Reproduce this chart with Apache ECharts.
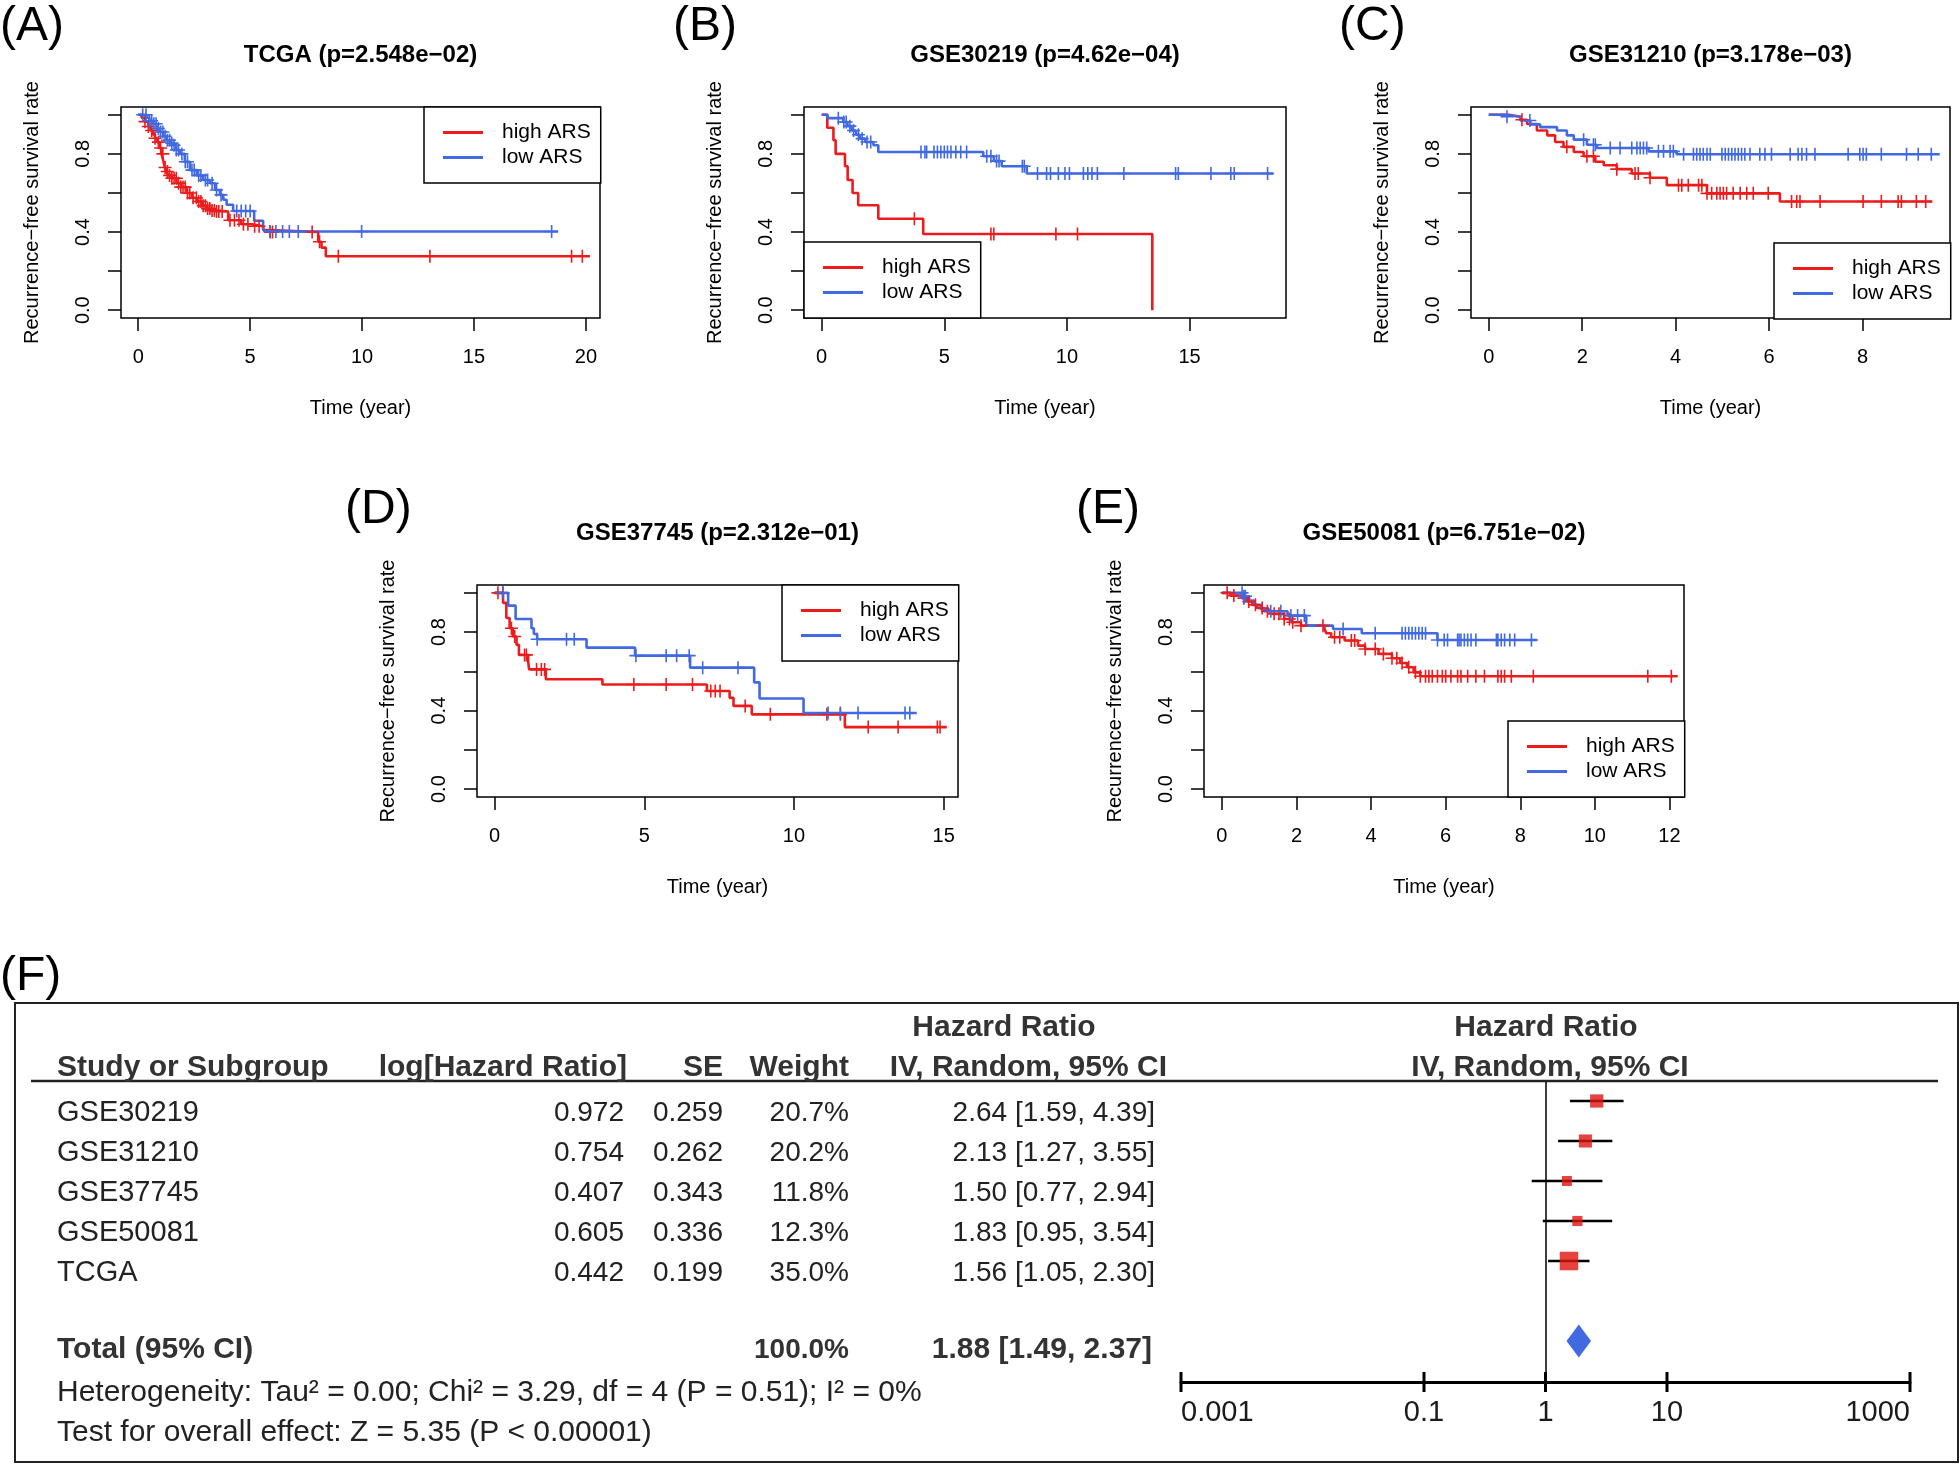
<!DOCTYPE html>
<html><head><meta charset="utf-8">
<script src="https://cdn.jsdelivr.net/npm/echarts@6/dist/echarts.min.js"></script>
<style>html,body{margin:0;padding:0;background:#fff}#c{width:1960px;height:1466px}</style>
</head><body><div id="c"></div>
<script>
// ---------------- DATA ----------------
const seriesNames = ['high ARS', 'low ARS'];
const panelLetters = ['(A)', '(B)', '(C)', '(D)', '(E)'];
const panelNames = ['TCGA', 'GSE30219', 'GSE31210', 'GSE37745', 'GSE50081'];
const panelPValues = ['2.548e\u221202', '4.62e\u221204', '3.178e\u221203', '2.312e\u221201', '6.751e\u221202'];
const xTickValues = [[0, 5, 10, 15, 20], [0, 5, 10, 15], [0, 2, 4, 6, 8], [0, 5, 10, 15], [0, 2, 4, 6, 8, 10, 12]];
const yTickValues = [0, 0.2, 0.4, 0.6, 0.8, 1.0];
const yLabelValues = [0, 0.4, 0.8];

// Panel A: TCGA  [time, survival after step]
const tcgaHighSteps = [[0,1],[0.15,0.985],[0.3,0.965],[0.45,0.94],[0.55,0.92],[0.65,0.9],[0.75,0.88],[0.85,0.86],[0.95,0.83],[1.04,0.8],[1.12,0.765],[1.19,0.73],[1.27,0.71],[1.34,0.69],[1.5,0.675],[1.71,0.65],[1.9,0.63],[2.16,0.6],[2.4,0.575],[2.61,0.556],[2.85,0.535],[3.05,0.52],[3.3,0.51],[3.5,0.505],[4.02,0.46],[4.6,0.44],[5.06,0.43],[5.58,0.41],[5.9,0.4],[8.04,0.35],[8.19,0.32],[8.38,0.276],[20.18,0.276]];
const tcgaHighCensor = [0.3,0.45,0.6,0.75,0.9,1.0,1.1,1.2,1.3,1.4,1.5,1.6,1.7,1.8,1.9,2.0,2.1,2.2,2.3,2.45,2.6,2.7,2.8,2.9,3.0,3.1,3.2,3.3,3.4,3.5,3.6,3.75,4.1,4.3,4.5,4.7,4.9,5.2,5.4,5.9,6.0,7.77,8.1,8.94,13.03,19.36,19.84];
const tcgaLowSteps = [[0,1],[0.37,0.985],[0.5,0.97],[0.67,0.954],[0.82,0.93],[0.97,0.912],[1.12,0.89],[1.27,0.87],[1.42,0.855],[1.56,0.844],[1.7,0.82],[1.86,0.8],[2.08,0.76],[2.31,0.717],[2.61,0.69],[2.9,0.666],[3.2,0.65],[3.43,0.615],[3.65,0.59],[3.8,0.565],[3.95,0.54],[4.24,0.508],[5.18,0.458],[5.58,0.42],[5.66,0.403],[18.76,0.403]];
const tcgaLowCensor = [0.2,0.35,0.5,0.6,0.7,0.8,0.9,1.0,1.1,1.2,1.3,1.4,1.5,1.6,1.7,1.8,1.95,2.1,2.2,2.4,2.5,2.7,2.8,3.0,3.1,3.3,3.5,3.7,4.4,4.6,4.8,5.0,5.88,6.15,6.45,6.75,7.15,9.98,18.47];

// Panel B: GSE30219
const g30219HighSteps = [[0,1],[0.23,0.934],[0.48,0.87],[0.57,0.8],[0.95,0.737],[1.06,0.666],[1.26,0.6],[1.49,0.537],[2.31,0.468],[4.14,0.39],[13.48,0.0]];
const g30219HighCensor = [3.78,6.9,7.02,9.55,10.43];
const g30219LowSteps = [[0,1],[0.24,0.983],[0.88,0.963],[1.05,0.942],[1.22,0.92],[1.4,0.898],[1.56,0.878],[1.77,0.861],[2.11,0.844],[2.31,0.81],[6.59,0.788],[7.02,0.763],[7.34,0.737],[8.36,0.7],[18.41,0.7]];
const g30219LowCensor = [0.68,0.9,1.0,1.15,1.3,1.5,1.65,1.85,2.0,4.05,4.21,4.28,4.58,4.72,4.86,5.0,5.13,5.27,5.47,5.67,5.91,6.73,6.9,7.13,7.23,8.18,8.26,8.8,9.17,9.33,9.65,9.92,10.1,10.67,10.85,11.02,11.24,12.32,14.43,14.54,15.87,16.68,16.82,18.18];

// Panel C: GSE31210
const g31210HighSteps = [[0,1],[0.43,0.99],[0.68,0.975],[0.82,0.953],[1.03,0.92],[1.25,0.895],[1.42,0.861],[1.6,0.836],[1.82,0.81],[2.03,0.788],[2.28,0.76],[2.46,0.742],[2.74,0.722],[3.06,0.7],[3.45,0.678],[3.81,0.64],[4.67,0.598],[6.23,0.556],[9.49,0.556]];
const g31210HighCensor = [0.71,1.67,2.1,2.24,2.74,3.13,3.2,3.45,4.06,4.13,4.27,4.49,4.56,4.67,4.77,4.88,4.95,5.02,5.09,5.23,5.38,5.52,5.66,5.98,6.48,6.59,6.66,7.09,8.01,8.4,8.76,8.83,9.15,9.35];
const g31210LowSteps = [[0,1],[0.32,0.99],[0.68,0.971],[0.89,0.951],[1.1,0.937],[1.46,0.92],[1.67,0.895],[1.82,0.873],[2.1,0.847],[2.31,0.83],[3.42,0.813],[4.02,0.798],[9.65,0.798]];
const g31210LowCensor = [0.39,0.88,2.03,2.24,2.28,2.6,2.81,3.06,3.17,3.24,3.31,3.38,3.63,3.74,3.88,3.95,4.17,4.38,4.45,4.52,4.59,4.67,4.74,4.99,5.06,5.13,5.2,5.27,5.34,5.41,5.48,5.59,5.8,5.91,6.05,6.45,6.62,6.7,6.8,6.98,7.69,7.94,8.01,8.08,8.4,8.94,9.19,9.47];

// Panel D: GSE37745
const g37745HighSteps = [[0,1],[0.28,0.949],[0.39,0.872],[0.5,0.82],[0.61,0.778],[0.73,0.735],[0.81,0.684],[1.12,0.65],[1.15,0.61],[1.71,0.56],[3.6,0.533],[7.09,0.5],[7.85,0.465],[7.98,0.424],[8.59,0.381],[11.7,0.316],[15.1,0.316]];
const g37745HighCensor = [0.11,0.27,0.56,0.67,1.0,1.06,1.4,1.56,1.67,4.65,5.73,6.61,7.22,7.37,7.53,8.37,9.21,11.1,11.55,12.48,13.48,14.79,14.88];
const g37745LowSteps = [[0,1],[0.45,0.935],[0.7,0.867],[1.23,0.82],[1.31,0.79],[1.42,0.764],[3.07,0.721],[4.69,0.68],[6.53,0.619],[8.67,0.544],[8.85,0.462],[10.32,0.388],[14.1,0.388]];
const g37745LowCensor = [0.28,1.42,2.4,2.66,4.72,5.73,6.08,6.5,6.95,8.13,11.14,11.55,12.14,13.71,13.87];

// Panel E: GSE50081
const g50081HighSteps = [[0,1],[0.23,0.986],[0.54,0.973],[0.68,0.956],[0.81,0.939],[0.95,0.923],[1.13,0.906],[1.31,0.893],[1.67,0.867],[1.85,0.85],[2.12,0.833],[2.75,0.816],[2.8,0.794],[2.93,0.774],[3.29,0.757],[3.65,0.731],[3.84,0.714],[4.2,0.689],[4.56,0.667],[4.78,0.643],[4.96,0.621],[5.14,0.595],[5.32,0.575],[12.21,0.575]];
const g50081HighCensor = [0.14,0.32,0.59,0.72,0.9,1.08,1.22,1.4,1.53,1.67,1.81,1.9,2.12,2.71,3.02,3.16,3.47,3.56,3.84,4.11,4.33,4.56,4.69,4.83,5.01,5.19,5.32,5.46,5.55,5.64,5.78,5.91,6.0,6.14,6.32,6.41,6.59,6.81,7.04,7.4,7.49,7.58,7.76,8.35,11.42,12.05];
const g50081LowSteps = [[0,1],[0.59,0.983],[0.72,0.961],[0.86,0.939],[1.04,0.918],[1.26,0.906],[1.76,0.884],[2.26,0.833],[2.98,0.816],[3.75,0.794],[5.78,0.76],[8.44,0.76]];
const g50081LowCensor = [0.54,0.59,0.63,1.31,1.58,1.85,2.03,2.21,3.25,4.11,4.83,4.92,5.01,5.1,5.19,5.28,5.37,5.46,5.78,5.96,6.05,6.32,6.36,6.41,6.5,6.59,6.68,6.81,7.36,7.4,7.49,7.58,7.72,7.85,8.3];

// Panel F: meta-analysis
const studies = ['GSE30219', 'GSE31210', 'GSE37745', 'GSE50081', 'TCGA'];
const logHR = [0.972, 0.754, 0.407, 0.605, 0.442];
const seLogHR = [0.259, 0.262, 0.343, 0.336, 0.199];
const weights = [20.7, 20.2, 11.8, 12.3, 35.0];
const hr = [2.64, 2.13, 1.50, 1.83, 1.56];
const hrLow = [1.59, 1.27, 0.77, 0.95, 1.05];
const hrHigh = [4.39, 3.55, 2.94, 3.54, 2.30];
const totalWeight = 100.0;
const totalHR = 1.88, totalLow = 1.49, totalHigh = 2.37;
const forestTickValues = [0.001, 0.1, 1, 10, 1000];
const heterogeneityText = 'Heterogeneity: Tau\u00b2 = 0.00; Chi\u00b2 = 3.29, df = 4 (P = 0.51); I\u00b2 = 0%';
const overallText = 'Test for overall effect: Z = 5.35 (P < 0.00001)';

// ---------------- LAYOUT / STYLE ----------------
const RED = '#ec1c1c', BLUE = '#4169e1';
const FONT = '"Liberation Sans", Arial, Helvetica, sans-serif';
const PLUS = 'path://M0,-1L0,1M-1,0L1,0';
const panels = [
  { high: tcgaHighSteps, highC: tcgaHighCensor, low: tcgaLowSteps, lowC: tcgaLowCensor },
  { high: g30219HighSteps, highC: g30219HighCensor, low: g30219LowSteps, lowC: g30219LowCensor },
  { high: g31210HighSteps, highC: g31210HighCensor, low: g31210LowSteps, lowC: g31210LowCensor },
  { high: g37745HighSteps, highC: g37745HighCensor, low: g37745LowSteps, lowC: g37745LowCensor },
  { high: g50081HighSteps, highC: g50081HighCensor, low: g50081LowSteps, lowC: g50081LowCensor }
];
const kmLayout = [
  { left: 121, top: 107, width: 479, height: 211, xMin: -0.77, xMax: 20.63, legend: [424, 107], letter: [0, 27] },
  { left: 804, top: 107, width: 482, height: 211, xMin: -0.72, xMax: 18.93, legend: [804, 242], letter: [673, 27] },
  { left: 1471, top: 107, width: 479, height: 211, xMin: -0.38, xMax: 9.87, legend: [1774, 243], letter: [1339, 27] },
  { left: 477, top: 585, width: 481, height: 212, xMin: -0.59, xMax: 15.48, legend: [782, 585], letter: [345, 510] },
  { left: 1204, top: 585, width: 480, height: 212, xMin: -0.48, xMax: 12.39, legend: [1508, 721], letter: [1076, 510] }
];
const forestGrid = { left: 1181, top: 1082, width: 729, height: 300, yMin: -0.475, yMax: 7.025 };
const totalRowIndex = 6;

function stepAt(steps, t) {
  let s = steps[0][1];
  for (const p of steps) { if (p[0] <= t) s = p[1]; else break; }
  return s;
}

const grids = [], xAxes = [], yAxes = [], series = [], legends = [], graphics = [];

kmLayout.forEach((L, k) => {
  const P = panels[k];
  grids.push({ left: L.left, top: L.top, width: L.width, height: L.height, show: true,
    borderColor: '#000', borderWidth: 1.5, backgroundColor: 'transparent', containLabel: false, outerBoundsMode: 'none' });
  xAxes.push({ type: 'value', gridIndex: k, min: L.xMin, max: L.xMax, position: 'bottom',
    axisLine: { show: false, onZero: false }, splitLine: { show: false },
    axisTick: { show: true, customValues: xTickValues[k], length: 13, lineStyle: { color: '#000', width: 1.5 } },
    axisLabel: { show: true, customValues: xTickValues[k], fontSize: 20, color: '#000', fontFamily: FONT, margin: 29 },
    name: 'Time (year)', nameLocation: 'middle', nameGap: 80,
    nameTextStyle: { fontSize: 20, color: '#000', fontFamily: FONT } });
  yAxes.push({ type: 'value', gridIndex: k, min: -0.04, max: 1.04, position: 'left',
    axisLine: { show: false, onZero: false }, splitLine: { show: false },
    axisTick: { show: true, customValues: yTickValues, length: 13, lineStyle: { color: '#000', width: 1.5 } },
    axisLabel: { show: true, customValues: yLabelValues, formatter: v => Number(v).toFixed(1), rotate: 90,
      fontSize: 20, color: '#000', fontFamily: FONT, margin: 28 },
    name: 'Recurrence\u2212free survival rate', nameLocation: 'middle', nameGap: 79,
    nameTextStyle: { fontSize: 20, color: '#000', fontFamily: FONT } });
  [[P.high, P.highC, RED, seriesNames[0]], [P.low, P.lowC, BLUE, seriesNames[1]]].forEach(([steps, cens, col, nm]) => {
    series.push({ type: 'line', name: nm, xAxisIndex: k, yAxisIndex: k, data: steps, step: 'end',
      symbol: 'none', silent: true, lineStyle: { color: col, width: 2.6 }, itemStyle: { color: col }, z: 3 });
    series.push({ type: 'scatter', name: nm, xAxisIndex: k, yAxisIndex: k,
      data: cens.map(t => [t, stepAt(steps, t)]), symbol: PLUS, symbolSize: 13, silent: true,
      itemStyle: { color: 'transparent', borderColor: col, borderWidth: 1.6, opacity: 1 }, z: 4 });
  });
  legends.push({ show: true, data: seriesNames, orient: 'vertical', left: L.legend[0], top: L.legend[1],
    icon: 'rect', itemWidth: 40, itemHeight: 3, itemGap: 4, padding: [15, 10, 15, 19],
    borderColor: '#000', borderWidth: 1.5, borderRadius: 0, backgroundColor: '#fff', selectedMode: false,
    textStyle: { fontSize: 21, color: '#000', fontFamily: FONT, padding: [0, 0, 0, 14], lineHeight: 21 } });
  graphics.push({ type: 'text', x: L.letter[0], y: L.letter[1], silent: true,
    style: { text: panelLetters[k], fontSize: 48, fontFamily: FONT, fill: '#000', align: 'left', verticalAlign: 'middle' } });
  graphics.push({ type: 'text', x: L.left + L.width / 2, y: L.top - 52, silent: true,
    style: { text: panelNames[k] + ' (p=' + panelPValues[k] + ')', fontSize: 24, fontWeight: 'bold', fontFamily: FONT,
      fill: '#000', align: 'center', verticalAlign: 'middle' } });
});

// ---------------- FOREST PLOT (F) ----------------
const fIdx = grids.length;
grids.push({ left: forestGrid.left, top: forestGrid.top, width: forestGrid.width, height: forestGrid.height,
  show: false, containLabel: false, outerBoundsMode: 'none' });
const logTicks = forestTickValues.map(v => Math.log10(v));
const fmtTick = v => String(parseFloat(Math.pow(10, v).toPrecision(4)));
xAxes.push({ type: 'value', gridIndex: fIdx, min: -3, max: 3, position: 'bottom',
  axisLine: { show: true, onZero: false, lineStyle: { color: '#000', width: 3 } }, splitLine: { show: false },
  axisTick: { show: false },
  axisLabel: { show: true, customValues: logTicks, formatter: fmtTick, fontSize: 29, color: '#1a1a1a',
    fontFamily: FONT, margin: 16, alignMinLabel: 'left', alignMaxLabel: 'right' } });
yAxes.push({ type: 'value', gridIndex: fIdx, min: forestGrid.yMin, max: forestGrid.yMax, inverse: true, show: false,
  axisLine: { onZero: false } });
const fx = fIdx, fy = fIdx;

// tick marks crossing the forest axis (both sides)
series.push({ type: 'custom', name: 'forestTicks', xAxisIndex: fx, yAxisIndex: fy, silent: true, z: 5,
  encode: { x: 0, y: 1 },
  data: logTicks.map(v => [v, forestGrid.yMax]),
  renderItem: (params, api) => {
    const p = api.coord([api.value(0), api.value(1)]);
    return { type: 'line', shape: { x1: p[0], y1: p[1] - 10, x2: p[0], y2: p[1] + 10 }, style: { stroke: '#000', lineWidth: 3 } };
  } });
series.push({ type: 'custom', name: 'ci', xAxisIndex: fx, yAxisIndex: fy, silent: true, z: 3,
  encode: { x: [0, 1], y: 2 },
  data: studies.map((s, i) => [Math.log10(hrLow[i]), Math.log10(hrHigh[i]), i]),
  renderItem: (params, api) => {
    const a = api.coord([api.value(0), api.value(2)]);
    const b = api.coord([api.value(1), api.value(2)]);
    return { type: 'line', shape: { x1: a[0], y1: a[1], x2: b[0], y2: b[1] }, style: { stroke: '#000', lineWidth: 2.5 } };
  } });
series.push({ type: 'scatter', name: 'hr', xAxisIndex: fx, yAxisIndex: fy, silent: true, z: 4,
  data: studies.map((s, i) => [Math.log10(hr[i]), i, weights[i]]),
  symbol: 'rect', symbolSize: v => 5.6 + 0.37 * v[2],
  itemStyle: { color: '#e0140f' },
  markLine: { silent: true, symbol: ['none', 'none'], label: { show: false }, z: 2,
    lineStyle: { color: '#000', width: 1.5, type: 'solid' }, data: [{ xAxis: 0 }] } });
series.push({ type: 'custom', name: 'total', xAxisIndex: fx, yAxisIndex: fy, silent: true, z: 4,
  encode: { x: [0, 1, 2], y: 3 },
  data: [[Math.log10(totalLow), Math.log10(totalHR), Math.log10(totalHigh), totalRowIndex]],
  renderItem: (params, api) => {
    const l = api.coord([api.value(0), api.value(3)]);
    const m = api.coord([api.value(1), api.value(3)]);
    const r = api.coord([api.value(2), api.value(3)]);
    const h = 16.5;
    return { type: 'polygon', shape: { points: [[l[0], l[1]], [m[0], m[1] - h], [r[0], r[1]], [m[0], m[1] + h]] },
      style: { fill: BLUE } };
  } });

function txt(x, y, text, extra) {
  return { type: 'text', x: x, y: y, silent: true,
    style: Object.assign({ text: text, fontSize: 28, fontFamily: FONT, fill: '#222', align: 'left', verticalAlign: 'middle' }, extra || {}) };
}
const B = { fontWeight: 'bold', fill: '#333', fontSize: 30 };
const W = (o) => Object.assign({}, B, o);
graphics.push(txt(0, 977, '(F)', { fontSize: 48, fill: '#000' }));
graphics.push({ type: 'rect', silent: true, shape: { x: 15, y: 1003, width: 1943, height: 459 },
  style: { fill: 'none', stroke: '#222', lineWidth: 2 } });
graphics.push({ type: 'line', silent: true, shape: { x1: 31, y1: 1081, x2: 1938, y2: 1081 },
  style: { stroke: '#222', lineWidth: 2.5 } });
graphics.push(txt(1004, 1028, 'Hazard Ratio', W({ align: 'center' })));
graphics.push(txt(1546, 1028, 'Hazard Ratio', W({ align: 'center' })));
graphics.push(txt(57, 1068, 'Study or Subgroup', W({})));
graphics.push(txt(627, 1068, 'log[Hazard Ratio]', W({ align: 'right' })));
graphics.push(txt(723, 1068, 'SE', W({ align: 'right' })));
graphics.push(txt(849, 1068, 'Weight', W({ align: 'right' })));
graphics.push(txt(1167, 1068, 'IV, Random, 95% CI', W({ align: 'right' })));
graphics.push(txt(1550, 1068, 'IV, Random, 95% CI', W({ align: 'center' })));
studies.forEach((s, i) => {
  const y = 1113 + 40 * i;
  graphics.push(txt(57, y, s, { fontSize: 29 }));
  graphics.push(txt(624, y, logHR[i].toFixed(3), { align: 'right' }));
  graphics.push(txt(723, y, seLogHR[i].toFixed(3), { align: 'right' }));
  graphics.push(txt(849, y, weights[i].toFixed(1) + '%', { align: 'right' }));
  graphics.push(txt(1155, y, hr[i].toFixed(2) + ' [' + hrLow[i].toFixed(2) + ', ' + hrHigh[i].toFixed(2) + ']', { align: 'right' }));
});
graphics.push(txt(57, 1350, 'Total (95% CI)', W({})));
graphics.push(txt(849, 1350, totalWeight.toFixed(1) + '%', W({ align: 'right', fontSize: 28 })));
graphics.push(txt(1152, 1350, totalHR.toFixed(2) + ' [' + totalLow.toFixed(2) + ', ' + totalHigh.toFixed(2) + ']', W({ align: 'right' })));
graphics.push(txt(57, 1393, heterogeneityText, { fontSize: 30 }));
graphics.push(txt(57, 1433, overallText, { fontSize: 30 }));

const chart = echarts.init(document.getElementById('c'), null, { renderer: 'canvas', width: 1960, height: 1466 });
chart.setOption({
  animation: false,
  backgroundColor: '#fff',
  textStyle: { fontFamily: FONT },
  tooltip: { show: false },
  grid: grids, xAxis: xAxes, yAxis: yAxes, series: series, legend: legends,
  graphic: { elements: graphics }
});
</script></body></html>
